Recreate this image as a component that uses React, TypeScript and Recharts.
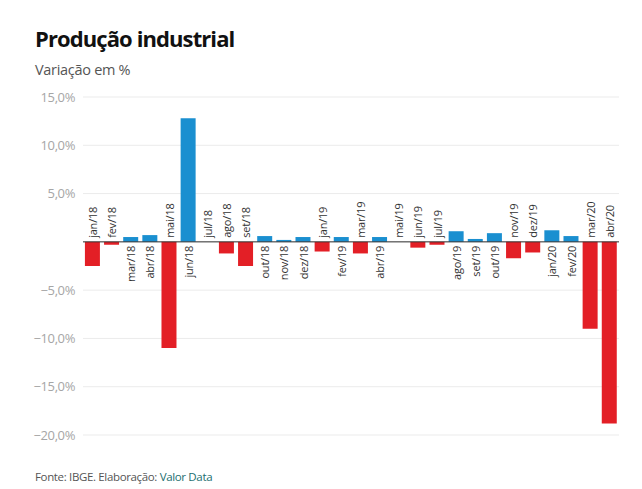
import React from "react";
import { BarChart, Bar, XAxis, YAxis, CartesianGrid, ReferenceLine, ReferenceDot, Cell } from "recharts";

const months = [
  "jan/18", "fev/18", "mar/18", "abr/18", "mai/18", "jun/18", "jul/18", "ago/18", "set/18", "out/18", "nov/18", "dez/18",
  "jan/19", "fev/19", "mar/19", "abr/19", "mai/19", "jun/19", "jul/19", "ago/19", "set/19", "out/19", "nov/19", "dez/19",
  "jan/20", "fev/20", "mar/20", "abr/20",
];
const values = [
  -2.5, -0.3, 0.5, 0.7, -11.0, 12.8, 0.0, -1.2, -2.5, 0.6, 0.2, 0.5,
  -1.0, 0.5, -1.2, 0.5, 0.0, -0.6, -0.3, 1.1, 0.3, 0.9, -1.7, -1.1,
  1.2, 0.6, -9.0, -18.8,
];
const yTicks = [-20, -15, -10, -5, 0, 5, 10, 15];

const BLUE = "#1a8fd0";
const RED = "#e31f26";
const FONT = "'Open Sans', 'Noto Sans', sans-serif";

const data = months.map((m, i) => ({ month: m, value: values[i] }));

const fmtTick = (v: number) => {
  if (v === 0) return "";
  const s = Math.abs(v).toFixed(1).replace(".", ",") + "%";
  return v < 0 ? "\u2212" + s : s;
};

const renderMonthLabel = (i: number) => (props: any) => {
  const vb = props.viewBox || {};
  const cx = (vb.x ?? 0) + (vb.width ?? 0) / 2;
  const zero = (vb.y ?? 0) + (vb.height ?? 0) / 2;
  const positive = values[i] > 0;
  const ty = positive ? zero + 4 : zero - 4;
  return (
    <text x={cx} y={ty} transform={`rotate(-90 ${cx} ${ty})`} textAnchor={positive ? "end" : "start"}
      dominantBaseline="central" fontSize={11} fill="#333" fontFamily={FONT} letterSpacing={-0.2}>
      {months[i]}
    </text>
  );
};

export default function App() {
  return (
    <div style={{ position: "absolute", left: 0, top: 0, width: 642, height: 489, background: "#fff", fontFamily: FONT }}>
      <div style={{ position: "absolute", left: 35, top: 23, fontSize: 22, fontWeight: 700, color: "#111", letterSpacing: -0.9 }}>
        Produção industrial
      </div>
      <div style={{ position: "absolute", left: 35, top: 60, fontSize: 14.5, color: "#555", letterSpacing: -0.3 }}>
        Variação em %
      </div>
      <div style={{ position: "absolute", left: 35, top: 469, fontSize: 11.5, color: "#555", letterSpacing: -0.35 }}>
        Fonte: IBGE. Elaboração: <span style={{ color: "#1d6f70" }}>Valor Data</span>
      </div>
      <div style={{ position: "absolute", left: 0, top: 0 }}>
        <BarChart width={642} height={489} data={data} margin={{ top: 97, right: 23, bottom: 54, left: 8 }}
          barCategoryGap="10%">
          <CartesianGrid horizontal vertical={false} stroke="#ebebeb" />
          <XAxis dataKey="month" hide />
          <YAxis domain={[-20, 15]} ticks={yTicks} width={75} axisLine={false} tickLine={false}
            tickFormatter={fmtTick} interval={0}
            tick={{ fontSize: 13, fill: "#a6a6a6", fontFamily: FONT, letterSpacing: -0.4 }} />
          <Bar dataKey="value" isAnimationActive={false}>
            {data.map((d, i) => (
              <Cell key={i} fill={d.value >= 0 ? BLUE : RED} />
            ))}
          </Bar>
          <ReferenceLine y={0} stroke="#333" strokeWidth={1} />
          {months.map((m, i) => (
            <ReferenceDot key={m} x={m} y={0} r={0} fill="none" stroke="none" label={renderMonthLabel(i)} />
          ))}
        </BarChart>
      </div>
    </div>
  );
}
